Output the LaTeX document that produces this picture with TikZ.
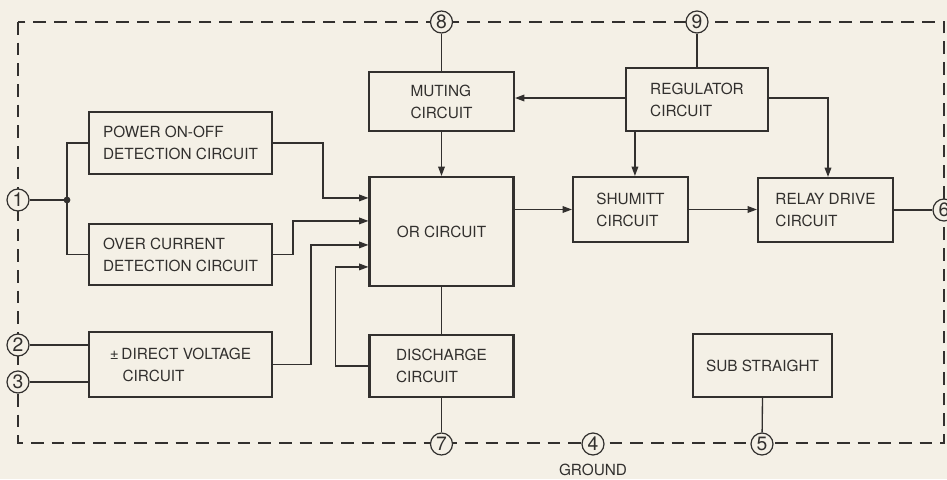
\documentclass[tikz,border=0pt]{standalone}
\usepackage{fontspec}
\setmainfont{TeX Gyre Heros}
\usetikzlibrary{arrows.meta,calc}
\definecolor{kagit}{RGB}{244,240,230}
\definecolor{murekkep}{RGB}{50,48,46}

\begin{document}
\begin{tikzpicture}[x=0.75pt, y=-0.75pt,
  blok/.style n args={2}{draw=murekkep, line width=1.6pt, fill=kagit, align=left,
    inner sep=0pt, minimum width=#1*\px, minimum height=#2*\px,
    text=murekkep, font=\fontsize{11.5}{16.5}\selectfont},
  hat/.style={draw=murekkep, line width=1pt},
  okhat/.style={hat, -{Triangle[length=7pt,width=5pt]}},
  uc/.style={circle, draw=murekkep, line width=0.9pt, fill=kagit, inner sep=0pt,
    minimum size=16.5pt, text=murekkep, font=\fontsize{14.5}{14.5}\selectfont}]
  % --- kagit zemini ve resmin sinirlari ---
  \def\px{0.75pt}  % bir piksel
  \fill[kagit] (0,0) rectangle (947,479);
  \useasboundingbox (0,0) rectangle (947,479);

  % ---- kesik cizgili cerceve ----
  \draw[hat, line width=1.2pt, dash pattern=on 9.5pt off 6pt] (18,22) rectangle (944,443);

  % ---- 1) giris tarafi bloklari ----
  \node[blok={183}{62}] (guc) at (180.5,143) {POWER ON-OFF\\DETECTION CIRCUIT};
  \node[blok={183}{61}] (akim) at (180.5,254.5) {OVER CURRENT\\DETECTION CIRCUIT};
  \node[blok={183}{65}] (dgerilim) at (180.5,364.5)
    {±\,DIRECT VOLTAGE\\\hspace*{9.5pt}CIRCUIT};

  % ---- 2) orta sutun ----
  \node[blok={145}{59}] (susturma) at (441.5,101.5) {MUTING\\CIRCUIT};
  \node[blok={144}{109}] (veya) at (441.5,231.5) {OR CIRCUIT};
  \node[blok={144}{62}] (desarj) at (441.5,366) {DISCHARGE\\CIRCUIT};

  % ---- 3) sag taraf ----
  \node[blok={142}{63}] (regulator) at (697,99.5) {REGULATOR\\CIRCUIT};
  \node[blok={115}{65}] (shumitt) at (630.5,209.5) {SHUMITT\\CIRCUIT};
  \node[blok={135}{64}] (role) at (825.5,210) {RELAY DRIVE\\CIRCUIT};
  \node[blok={139}{63}] (alt) at (762.5,365.5) {SUB STRAIGHT};

  % ---- uclar (daire icinde numaralar) ----
  \foreach \n/\x/\y in {1/18/200, 2/18/345, 3/18/382, 4/593/444, 5/762/444,
                        6/944/210, 7/441.5/444, 8/441.5/22, 9/697/22}
    \node[uc] (u\n) at (\x,\y) {\n};
  \node[text=murekkep, font=\fontsize{11.5}{13}\selectfont] (toprak) at (593,470) {GROUND};

  % ---- OR devresinin girisleri ----
  \coordinate (g1) at ($(veya.north west)+(0,22)$);
  \coordinate (g2) at ($(veya.north west)+(0,45)$);
  \coordinate (g3) at ($(veya.north west)+(0,69)$);
  \coordinate (g4) at ($(veya.north west)+(0,91)$);

  % ---- baglantilar ----
  \coordinate (dugum) at (67,200);
  \draw[hat] (u1) -- (dugum);
  \draw[hat] (guc.west) -| (dugum) |- (akim.west);
  \fill[murekkep] (dugum) circle (3.4);
  \draw[hat] (u2) -- (u2 -| dgerilim.west);
  \draw[hat] (u3) -- (u3 -| dgerilim.west);

  \draw[okhat] (guc.east) -- ++(50,0) |- (g1);
  \draw[okhat] (akim.east) -- ++(20,0) |- (g2);
  \draw[okhat] (dgerilim.east) -- ++(38,0) |- (g3);
  \draw[okhat] (desarj.west) -- ++(-33,0) |- (g4);

  \draw[hat] (u8) -- (susturma.north);
  \draw[okhat] (susturma.south) -- (veya.north);
  \draw[hat] (veya.south) -- (desarj.north);
  \draw[hat] (desarj.south) -- (u7);

  \draw[hat] (u9) -- (regulator.north);
  \draw[okhat] (regulator.west |- 0,98) -- (susturma.east |- 0,98);
  \coordinate (r1) at ($(regulator.south west)+(10,0)$);
  \draw[okhat] (r1) -- (r1 |- shumitt.north);
  \draw[okhat] (regulator.east |- 0,98) -| (role.north -| 828,0);

  \draw[okhat] (veya.east |- shumitt.west) -- (shumitt.west);
  \draw[okhat] (shumitt.east) -- (shumitt.east -| role.west);
  \draw[hat] (role.east) -- (u6);
  \draw[hat] (alt.south) -- (u5);
\end{tikzpicture}
\end{document}
